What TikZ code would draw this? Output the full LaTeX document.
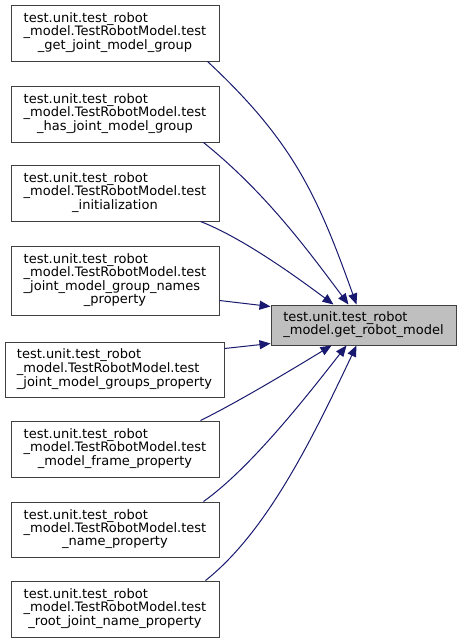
\documentclass[tikz,border=0pt]{standalone}
\usepackage{fontspec}
\setmainfont{DejaVu Sans}
\usetikzlibrary{arrows.meta}
\definecolor{edgeblue}{HTML}{191970}
\definecolor{boxline}{HTML}{404040}
\definecolor{hlfill}{HTML}{BFBFBF}
\newcommand\lastc[1]{\multicolumn{1}{@{}c@{}}{#1}}
\begin{document}
\begin{tikzpicture}[x=1pt,y=-1pt,
  box/.style={draw=boxline, line width=1pt, fill=white, inner sep=0pt,
    font=\fontsize{13}{13}\selectfont, minimum width=208pt, minimum height=56pt},
  edge/.style={draw=edgeblue, line width=1pt, -{Triangle[length=11pt,width=9pt]}, fill=none}]
\fill[white] (0,0) rectangle (461,643);
\useasboundingbox (0,0) rectangle (461,643);
\renewcommand\arraystretch{1}

\node[box] (s1) at (115,33) {\begin{tabular}{@{}l@{}}test.unit.test\_robot\\\_model.TestRobotModel.test\\\lastc{\_get\_joint\_model\_group}\end{tabular}};
\node[box] (s2) at (115,114) {\begin{tabular}{@{}l@{}}test.unit.test\_robot\\\_model.TestRobotModel.test\\\lastc{\_has\_joint\_model\_group}\end{tabular}};
\node[box] (s3) at (115,193) {\begin{tabular}{@{}l@{}}test.unit.test\_robot\\\_model.TestRobotModel.test\\\lastc{\_initialization}\end{tabular}};
\node[box, minimum height=69pt] (s4) at (115,280.5) {\begin{tabular}{@{}l@{}}test.unit.test\_robot\\\_model.TestRobotModel.test\\\_joint\_model\_group\_names\\\lastc{\_property}\end{tabular}};
\node[box, minimum width=219pt, minimum height=55pt] (s5) at (114.5,369.5) {\begin{tabular}{@{}l@{}}test.unit.test\_robot\\\_model.TestRobotModel.test\\\lastc{\_joint\_model\_groups\_property}\end{tabular}};
\node[box] (s6) at (115,449) {\begin{tabular}{@{}l@{}}test.unit.test\_robot\\\_model.TestRobotModel.test\\\lastc{\_model\_frame\_property}\end{tabular}};
\node[box, minimum height=55pt] (s7) at (115,529.5) {\begin{tabular}{@{}l@{}}test.unit.test\_robot\\\_model.TestRobotModel.test\\\lastc{\_name\_property}\end{tabular}};
\node[box] (s8) at (115,609) {\begin{tabular}{@{}l@{}}test.unit.test\_robot\\\_model.TestRobotModel.test\\\lastc{\_root\_joint\_name\_property}\end{tabular}};

\node[box, fill=hlfill, minimum width=185pt, minimum height=40pt] (t) at (363.5,325) {\begin{tabular}{@{}l@{}}test.unit.test\_robot\\\_model.get\_robot\_model\end{tabular}};

\draw[edge] ([xshift=-12pt]s1.south east) .. controls (294,142) and (318,197) .. ([xshift=86pt]t.north west);
\draw[edge] ([xshift=-16pt]s2.south east) .. controls (265,192) and (307,249) .. ([xshift=78pt]t.north west);
\draw[edge] ([xshift=-19pt]s3.south east) .. controls (243,238) and (298,278) .. ([xshift=63pt]t.north west);
\draw[edge] ([yshift=15pt]s4.south east) -- ([yshift=-2pt]t.north west);
\draw[edge] ([yshift=-7pt]s5.north east) -- ([yshift=2pt]t.south west);
\draw[edge] ([xshift=-19pt]s6.north east) .. controls (240,401) and (296,367) .. ([xshift=61pt]t.south west);
\draw[edge] ([xshift=-16pt]s7.north east) .. controls (252,467) and (310,392) .. ([xshift=76pt]t.south west);
\draw[edge] ([xshift=-14pt]s8.north east) .. controls (268,531) and (314,435) .. ([xshift=86pt]t.south west);
\end{tikzpicture}
\end{document}
